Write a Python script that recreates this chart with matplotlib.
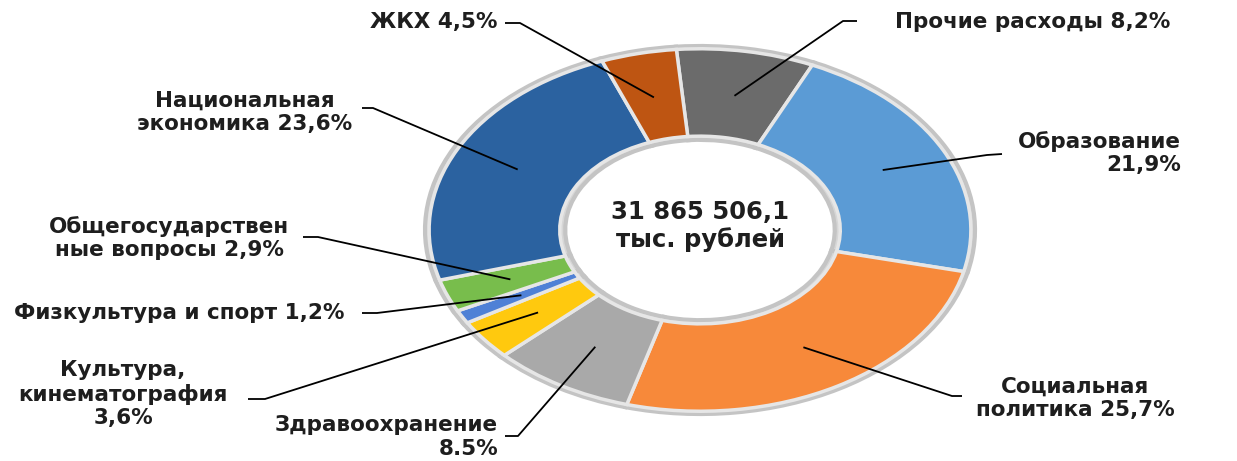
import numpy as np
import matplotlib
matplotlib.use("Agg")
import matplotlib.pyplot as plt

# ---- data (clockwise from the top)
categories = ["Прочие расходы", "Образование", "Социальная политика", "Здравоохранение",
              "Культура, кинематография", "Физкультура и спорт",
              "Общегосударственные вопросы", "Национальная экономика", "ЖКХ"]
shares = [8.2, 21.9, 25.7, 8.5, 3.6, 1.2, 2.9, 23.6, 4.5]
label_texts = ["Прочие расходы 8,2%", "Образование\n21,9%", "Социальная\nполитика 25,7%",
               "Здравоохранение\n8.5%", "Культура,\nкинематография\n3,6%",
               "Физкультура и спорт 1,2%", "Общегосударствен\nные вопросы 2,9%",
               "Национальная\nэкономика 23,6%", "ЖКХ 4,5%"]
total_text = "31 865 506,1\nтыс. рублей"

colors = ["#6b6b6b", "#5b9bd5", "#f7893a", "#a9a9a9", "#ffc90e",
          "#4f81d6", "#78bd4c", "#2b62a0", "#be5512"]

# ---- layout (pixels, origin top-left)
W, H = 1237, 461
CX, CY, A, B = 700, 230, 275, 184

def px(x, y):
    return (x - CX) / A, (CY - y) / B

# text position, alignment, leader start (text side), elbow
label_layout = [
    ((895, 22), "left", (857, 21), (843, 21)),
    ((1181, 153), "right", (1002, 154), (987, 155)),
    ((1075, 398), "center", (962, 396), (952, 396)),
    ((498, 437), "right", (505, 436), (518, 436)),
    ((123, 394), "center", (248, 399), (265, 399)),
    ((179, 313), "center", (362, 313), (377, 313)),
    ((169, 238), "center", (303, 237), (318, 237)),
    ((245, 112), "center", (362, 108), (373, 108)),
    ((497, 22), "right", (505, 23), (520, 23)),
]

fig = plt.figure(figsize=(W / 100, H / 100), dpi=100)
ax = fig.add_axes([0, 0, 1, 1])

# bevel-ish base ring, then the coloured segments on top
ax.pie(shares, colors=["#d6d6d6"] * len(shares), startangle=95, counterclock=False,
       radius=1.0, wedgeprops=dict(width=0.51, edgecolor="#c4c4c4", linewidth=3))
wedges, _ = ax.pie(shares, colors=colors, startangle=95, counterclock=False,
                   radius=0.985, wedgeprops=dict(width=0.475, edgecolor="#e6e6e6", linewidth=2.5))

ax.set_aspect("auto")
ax.set_xlim(-CX / A, (W - CX) / A)
ax.set_ylim((CY - H) / B, CY / B)
ax.axis("off")

for w, txt, (tpos, ha, lstart, elbow) in zip(wedges, label_texts, label_layout):
    mid = np.deg2rad((w.theta1 + w.theta2) / 2)
    anchor = (0.74 * np.cos(mid), 0.74 * np.sin(mid))
    pts = [px(*lstart), px(*elbow), anchor]
    xs, ys = zip(*pts)
    ax.plot(xs, ys, color="black", lw=1.3, solid_capstyle="butt")
    tx, ty = px(*tpos)
    ax.text(tx, ty, txt, ha=ha, va="center", fontsize=15.5, fontweight="bold",
            color="#1e1e1e", linespacing=1.2)

ax.text(0, px(700, 226)[1], total_text, ha="center", va="center", fontsize=17.5,
        fontweight="bold", color="#1e1e1e", linespacing=1.2)

fig.savefig("out.png", dpi=100)
